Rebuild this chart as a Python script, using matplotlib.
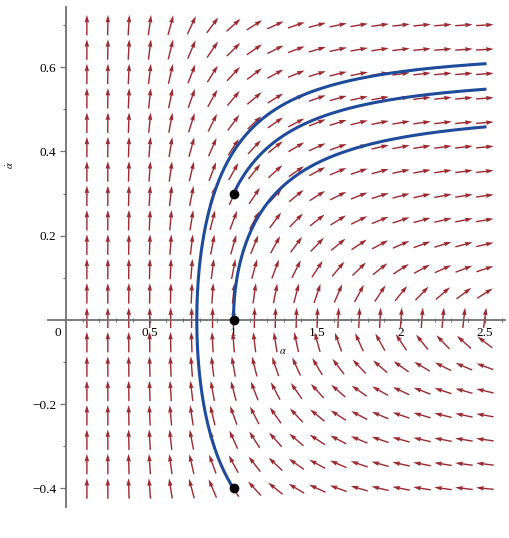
import numpy as np
import matplotlib
matplotlib.use("Agg")
import matplotlib.pyplot as plt

# system: alpha' = alpha_dot, alpha_dot' = c / alpha^3
c = 0.25
# initial points (alpha, alpha_dot)
start_alpha = [1.0, 1.0, 1.0]
start_alpha_dot = [0.3, 0.0, -0.4]
alpha_end = 2.5

# arrow grid
grid_alpha = np.linspace(0.125, 2.5, 20)
grid_alpha_dot = np.linspace(-0.4, 0.7, 20)

x_ticks = [0.5, 1, 1.5, 2, 2.5]
x_ticklabels = ["0.5", "1", "1.5", "2", "2.5"]
y_ticks = [-0.4, -0.2, 0.2, 0.4, 0.6]
y_ticklabels = ["\u22120.4", "\u22120.2", "0.2", "0.4", "0.6"]


def rhs(s):
    return np.array([s[1], c / s[0] ** 3])


def trajectory(a0, b0, dt=0.002):
    s = np.array([a0, b0])
    pts = [s.copy()]
    for i in range(20000):
        k1 = rhs(s)
        k2 = rhs(s + dt / 2 * k1)
        k3 = rhs(s + dt / 2 * k2)
        k4 = rhs(s + dt * k3)
        s = s + dt / 6 * (k1 + 2 * k2 + 2 * k3 + k4)
        pts.append(s.copy())
        if s[0] >= alpha_end:
            break
    return np.array(pts)


plt.rcParams['font.family'] = ['Liberation Serif', 'DejaVu Serif']
plt.rcParams['mathtext.fontset'] = 'stix'

W, H = 509, 538
fig = plt.figure(figsize=(W / 100, H / 100), dpi=100)
# axes box in pixels: x 48..505, y 7..507
ax = fig.add_axes([48 / W, 1 - 507 / H, (505 - 48) / W, (507 - 7) / H])
ax.set_xlim(-0.107, 2.62)
ax.set_ylim(-0.444, 0.743)

# direction field, arrows normalised per grid cell
X, Y = np.meshgrid(grid_alpha, grid_alpha_dot)
U = Y
V = c / X ** 3
dx = grid_alpha[1] - grid_alpha[0]
dy = grid_alpha_dot[1] - grid_alpha_dot[0]
us = U / dx
vs = V / dy
n = np.hypot(us, vs)
L = 0.84
ax.quiver(X, Y, us / n * dx * L, vs / n * dy * L, angles='xy', scale_units='xy',
          scale=1, pivot='middle', color='#9c2a30', units='dots', width=1.4,
          headwidth=3.3, headlength=5.5, headaxislength=5, zorder=2)

# trajectories
for a0, b0 in zip(start_alpha, start_alpha_dot):
    tr = trajectory(a0, b0)
    ax.plot(tr[:, 0], tr[:, 1], color='#1f4b9c', lw=2.2, zorder=3)
    ax.plot(a0, b0, 'o', color='black', ms=6, zorder=4)

# axes through origin
for s in ['top', 'right']:
    ax.spines[s].set_visible(False)
ax.spines['left'].set_position(('data', 0))
ax.spines['bottom'].set_position(('data', 0))
for s in ['left', 'bottom']:
    ax.spines[s].set_color('#707070')
    ax.spines[s].set_linewidth(1.3)

ax.set_xticks(x_ticks)
ax.set_xticklabels(x_ticklabels)
ax.set_yticks(y_ticks)
ax.set_yticklabels(y_ticklabels)
ax.set_xticks(np.arange(0.1, 2.61, 0.1), minor=True)
ax.set_yticks(np.arange(-0.4, 0.71, 0.1), minor=True)
ax.tick_params(axis='both', which='major', length=4, width=0.9, color='#707070',
               labelsize=9.5, pad=3)
ax.tick_params(axis='both', which='minor', length=2.5, width=0.8, color='#707070')
ax.tick_params(axis='x', which='both', direction='inout')
ax.text(-0.05, -0.03, "0", fontsize=9.5, ha='center', va='center')

ax.text(1.295, -0.074, r"$\alpha$", fontsize=7.5, ha='center', va='center')
fig.text(10 / W, 1 - 165 / H, r"$\dot{\alpha}$", fontsize=7.5, rotation=90,
         ha='center', va='center')

fig.savefig("out.png", dpi=100)
